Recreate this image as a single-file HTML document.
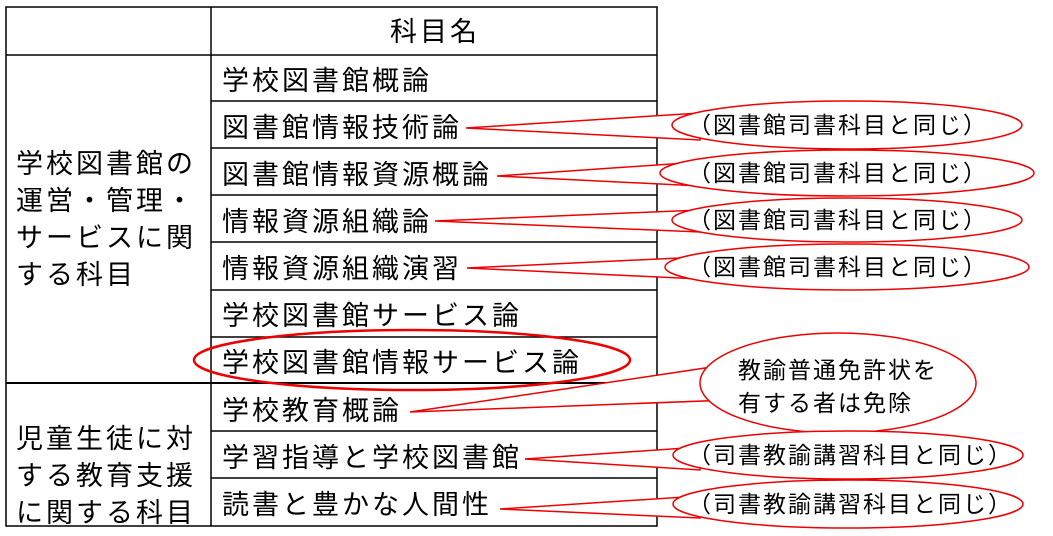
<!DOCTYPE html>
<html><head><meta charset="utf-8"><style>
html,body{margin:0;padding:0;background:#fff;width:1053px;height:536px;overflow:hidden}
svg text{font-family:"Liberation Sans","Noto Sans CJK JP",sans-serif;fill:#000}
</style></head><body>
<svg width="1053" height="536" viewBox="0 0 1053 536" xmlns="http://www.w3.org/2000/svg">
<g stroke="#000" stroke-width="1.5" fill="none">
<rect x="6" y="7" width="651" height="519"/>
<line x1="211" y1="7" x2="211" y2="526"/>
<line x1="6" y1="55" x2="657" y2="55"/>
<line x1="211" y1="101" x2="657" y2="101"/>
<line x1="211" y1="148" x2="657" y2="148"/>
<line x1="211" y1="195" x2="657" y2="195"/>
<line x1="211" y1="242" x2="657" y2="242"/>
<line x1="211" y1="290" x2="657" y2="290"/>
<line x1="211" y1="337" x2="657" y2="337"/>
<line x1="6" y1="383" x2="657" y2="383" stroke-width="2"/>
<line x1="211" y1="431" x2="657" y2="431"/>
<line x1="211" y1="478" x2="657" y2="478"/>
</g>
<g font-size="27" letter-spacing="3">
<text x="390" y="41">科目名</text>
<text x="222" y="90">学校図書館概論</text>
<text x="222" y="137">図書館情報技術論</text>
<text x="222" y="184">図書館情報資源概論</text>
<text x="222" y="231">情報資源組織論</text>
<text x="222" y="278">情報資源組織演習</text>
<text x="222" y="325">学校図書館サービス論</text>
<text x="222" y="372">学校図書館情報サービス論</text>
<text x="222" y="420">学校教育概論</text>
<text x="222" y="467">学習指導と学校図書館</text>
<text x="222" y="514">読書と豊かな人間性</text>
<text x="16" y="173">学校図書館の</text>
<text x="16" y="210">運営・管理・</text>
<text x="16" y="247">サービスに関</text>
<text x="16" y="284">する科目</text>
<text x="16" y="448">児童生徒に対</text>
<text x="16" y="485">する教育支援</text>
<text x="16" y="522">に関する科目</text>
</g>
<ellipse cx="412" cy="360" rx="218" ry="30" fill="none" stroke="#e00" stroke-width="2.5"/>
<g stroke="#e00" stroke-width="1.5" fill="#fff">
<polygon points="466,128 700,113 700,140"/>
<ellipse cx="847" cy="125" rx="175" ry="24"/>
<polygon points="497,176 700,162 700,186"/>
<ellipse cx="847" cy="173" rx="187" ry="23"/>
<polygon points="435,221 700,210 700,232"/>
<ellipse cx="847" cy="220" rx="175" ry="22"/>
<polygon points="467,268 700,257 700,279"/>
<ellipse cx="847" cy="267" rx="182" ry="23"/>
<polygon points="410,412 712,367 730,400"/>
<ellipse cx="838" cy="383" rx="138" ry="50"/>
<polygon points="525,459 700,447 700,470"/>
<ellipse cx="848" cy="455" rx="175" ry="24"/>
<polygon points="500,509 700,496 700,518"/>
<ellipse cx="848" cy="504" rx="175" ry="24"/>
</g>
<g font-size="23" letter-spacing="2">
<text x="688" y="133">（図書館司書科目と同じ）</text>
<text x="688" y="181">（図書館司書科目と同じ）</text>
<text x="688" y="228">（図書館司書科目と同じ）</text>
<text x="688" y="275">（図書館司書科目と同じ）</text>
<text x="688" y="463">（司書教諭講習科目と同じ）</text>
<text x="688" y="512">（司書教諭講習科目と同じ）</text>
<text x="738" y="378">教諭普通免許状を</text>
<text x="738" y="411">有する者は免除</text>
</g>
</svg>
</body></html>
